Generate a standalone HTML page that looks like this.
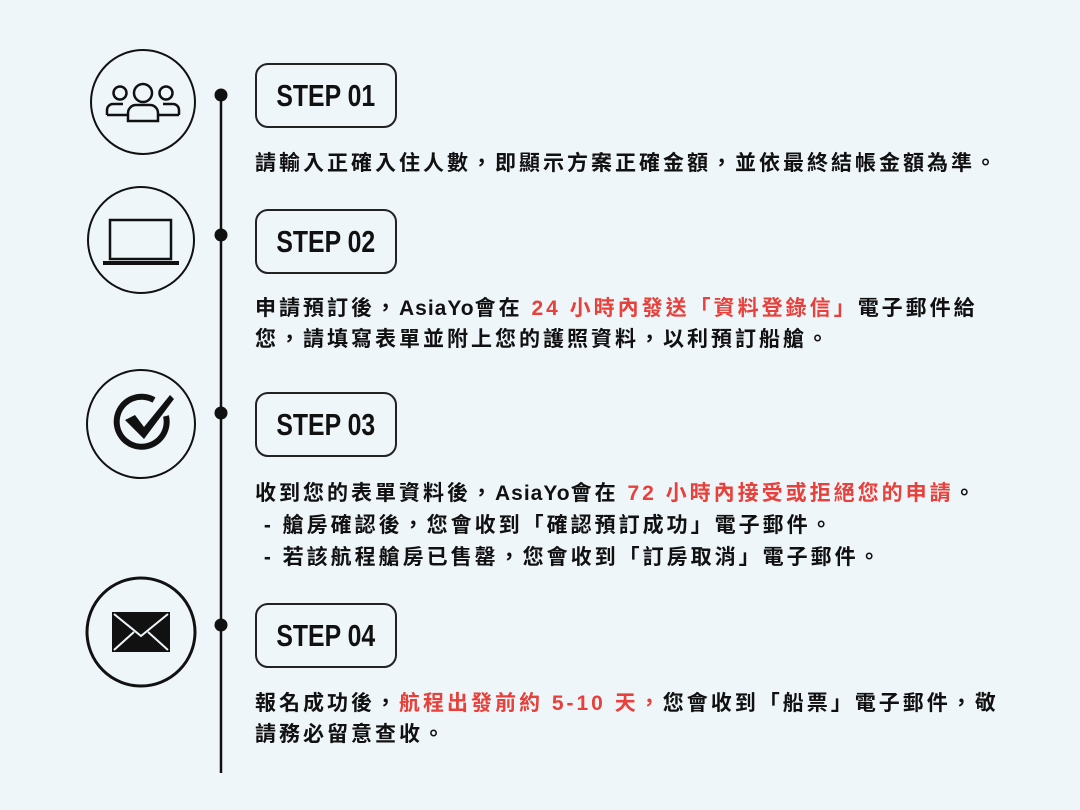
<!DOCTYPE html>
<html><head><meta charset="utf-8"><style>
body{margin:0;width:1080px;height:810px;background:#eef6fa;position:relative;overflow:hidden;font-family:"Liberation Sans","Noto Sans CJK TC",sans-serif;}
.box{position:absolute;left:255px;width:142px;height:65px;border:2px solid #222;border-radius:13px;box-sizing:border-box;text-align:center;line-height:61px;font-family:"Liberation Sans Narrow","Liberation Sans",sans-serif;font-weight:bold;font-size:31px;color:#111;}
.box span{display:inline-block;transform:scaleX(0.8);}
.t{position:absolute;left:255px;font-size:21px;font-weight:bold;color:#111;white-space:nowrap;letter-spacing:3px;}
.r{color:#e8403a;}
.l{letter-spacing:1px;}
</style></head><body>
<svg width="1080" height="810" style="position:absolute;left:0;top:0">
<line x1="221" y1="95" x2="221" y2="773" stroke="#111" stroke-width="2.5"/>
<circle cx="221" cy="95" r="6.5" fill="#111"/>
<circle cx="221" cy="235" r="6.5" fill="#111"/>
<circle cx="221" cy="413" r="6.5" fill="#111"/>
<circle cx="221" cy="625" r="6.5" fill="#111"/>
<g fill="none" stroke="#111" stroke-width="2">
<circle cx="143" cy="102" r="52"/>
<circle cx="141" cy="240" r="53"/>
<circle cx="141" cy="424" r="54"/>
<circle cx="141" cy="632" r="54" stroke-width="3"/>
</g>
<g fill="none" stroke="#111" stroke-width="2.5">
<circle cx="143" cy="93" r="9"/>
<path d="M128 121 v-8 a8 8 0 0 1 8 -8 h14 a8 8 0 0 1 8 8 v8 z"/>
<circle cx="120" cy="93" r="6.5"/>
<path d="M107 115 v-5 a6 6 0 0 1 6 -6 h10"/>
<path d="M107 115 h20"/>
<circle cx="166" cy="93" r="6.5"/>
<path d="M179 115 v-5 a6 6 0 0 0 -6 -6 h-10"/>
<path d="M179 115 h-20"/>
<rect x="110" y="220" width="61" height="39"/>
</g>
<rect x="103" y="261" width="76" height="4" fill="#111"/>
<path d="M154 400 a25 25 0 1 0 12 16" fill="none" stroke="#111" stroke-width="6"/>
<path d="M125 420 l10 -5 l9 12 l26 -32 l4 4 l-30 40 z" fill="#111"/>
<rect x="112" y="612" width="58" height="40" fill="#111"/>
<path d="M114 614 l27 22 l27 -22 M114 650 l20 -18 M168 650 l-20 -18" fill="none" stroke="#eef6fa" stroke-width="2"/>
</svg>
<div class="box" style="top:63px"><span>STEP 01</span></div>
<div class="box" style="top:209px"><span>STEP 02</span></div>
<div class="box" style="top:392px"><span>STEP 03</span></div>
<div class="box" style="top:603px"><span>STEP 04</span></div>
<div class="t" style="top:147px">請輸入正確入住人數，即顯示方案正確金額，並依最終結帳金額為準。</div>
<div class="t" style="top:292px">申請預訂後，<span class="l">AsiaYo</span>會在 <span class="r">24 小時內發送「資料登錄信」</span>電子郵件給</div>
<div class="t" style="top:323px">您，請填寫表單並附上您的護照資料，以利預訂船艙。</div>
<div class="t" style="top:477px">收到您的表單資料後，<span class="l">AsiaYo</span>會在 <span class="r">72 小時內接受或拒絕您的申請</span>。</div>
<div class="t" style="top:509px">&nbsp;- 艙房確認後，您會收到「確認預訂成功」電子郵件。</div>
<div class="t" style="top:541px">&nbsp;- 若該航程艙房已售罄，您會收到「訂房取消」電子郵件。</div>
<div class="t" style="top:687px">報名成功後，<span class="r">航程出發前約 5-10 天，</span>您會收到「船票」電子郵件，敬</div>
<div class="t" style="top:718px">請務必留意查收。</div>
</body></html>
